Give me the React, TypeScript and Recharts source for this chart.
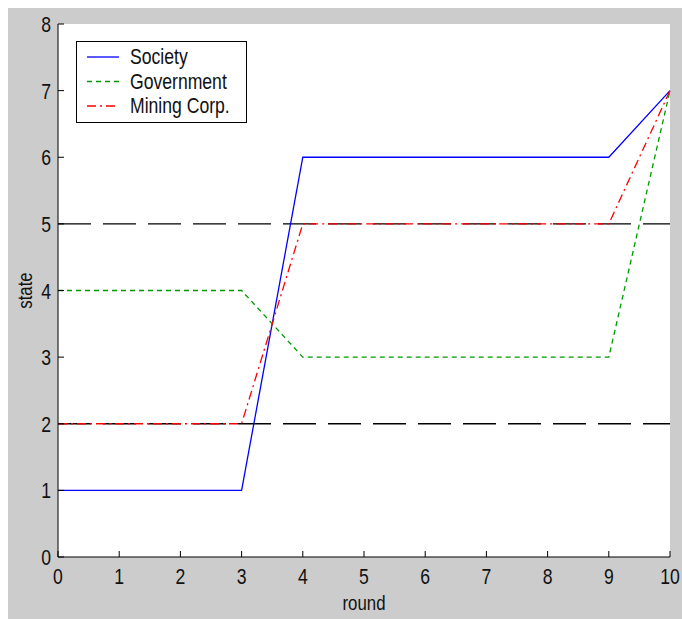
import React from 'react';
import { LineChart, Line, XAxis, YAxis, ReferenceLine, Legend } from 'recharts';

const rounds = [0, 1, 2, 3, 4, 5, 6, 7, 8, 9, 10];
const society = [1, 1, 1, 1, 6, 6, 6, 6, 6, 6, 7];
const government = [4, 4, 4, 4, 3, 3, 3, 3, 3, 3, 7];
const mining = [2, 2, 2, 2, 5, 5, 5, 5, 5, 5, 7];
const xTicks = [0, 1, 2, 3, 4, 5, 6, 7, 8, 9, 10];
const yTicks = [0, 1, 2, 3, 4, 5, 6, 7, 8];
const thresholds = [2, 5];

const data = rounds.map((r, i) => ({
  round: r,
  society: society[i],
  government: government[i],
  mining: mining[i],
}));

const FONT = "'Liberation Sans', Arial, sans-serif";
const NARROW = 0.8;
const TICK = 6;

const series = [
  { key: 'society', name: 'Society', color: '#0000ff', dash: undefined },
  { key: 'government', name: 'Government', color: '#009900', dash: '5 4' },
  { key: 'mining', name: 'Mining Corp.', color: '#ff0000', dash: '9 4 2 4' },
];

// squeezed text, the original figure uses a condensed font
const Narrow = ({ x, y, anchor = 'start', size = 22, rotate = 0, children }: any) => (
  <text
    transform={`translate(${x},${y}) rotate(${rotate}) scale(${NARROW},1)`}
    textAnchor={anchor}
    fontFamily={FONT}
    fontSize={size}
    fill="#111"
  >
    {children}
  </text>
);

const BottomTick = ({ x, y, payload }: any) => (
  <g>
    <line x1={x} x2={x} y1={y} y2={y - TICK} stroke="#000" />
    <Narrow x={x} y={y + 27} anchor="middle">
      {payload.value}
    </Narrow>
  </g>
);

const LeftTick = ({ x, y, payload }: any) => (
  <g>
    <line x1={x} x2={x + TICK} y1={y} y2={y} stroke="#000" />
    <Narrow x={x - 7} y={y + 8} anchor="end">
      {payload.value}
    </Narrow>
  </g>
);

const TopTick = ({ x, y }: any) => <line x1={x} x2={x} y1={y} y2={y + TICK} stroke="#000" />;
const RightTick = ({ x, y }: any) => <line x1={x} x2={x - TICK} y1={y} y2={y} stroke="#000" />;

const LegendBox = () => (
  <div
    style={{
      width: 171,
      height: 82,
      boxSizing: 'border-box',
      border: '1px solid #000',
      background: '#fff',
    }}
  >
    <svg width={169} height={80} style={{ display: 'block' }}>
      {series.map((s, i) => (
        <g key={s.key}>
          <line
            x1={10}
            x2={42}
            y1={15 + i * 24.5}
            y2={15 + i * 24.5}
            stroke={s.color}
            strokeWidth={1.3}
            strokeDasharray={s.dash}
          />
          <Narrow x={53} y={22 + i * 24.5} size={22}>
            {s.name}
          </Narrow>
        </g>
      ))}
    </svg>
  </div>
);

export default function App() {
  return (
    <div
      style={{
        position: 'fixed',
        left: 8,
        top: 8,
        width: 674,
        height: 611,
        background: '#cccccc',
      }}
    >
      <LineChart
        width={674}
        height={611}
        data={data}
        margin={{ top: 16, right: 12, left: 0, bottom: 0 }}
      >
        <rect x={50} y={16} width={612} height={533} fill="#fff" />
        <XAxis
          dataKey="round"
          type="number"
          domain={[0, 10]}
          ticks={xTicks}
          height={62}
          tickSize={0}
          tickMargin={0}
          tickLine={false}
          axisLine={{ stroke: '#000' }}
          tick={<BottomTick />}
          label={({ viewBox }: any) => (
            <Narrow x={viewBox.x + viewBox.width / 2} y={602} anchor="middle" size={21}>
              round
            </Narrow>
          )}
        />
        <XAxis
          xAxisId="top"
          orientation="top"
          type="number"
          domain={[0, 10]}
          ticks={xTicks}
          height={0}
          tickSize={0}
          tickMargin={0}
          tickLine={false}
          axisLine={{ stroke: '#000' }}
          tick={<TopTick />}
        />
        <YAxis
          type="number"
          domain={[0, 8]}
          ticks={yTicks}
          width={50}
          tickSize={0}
          tickMargin={0}
          tickLine={false}
          axisLine={{ stroke: '#000' }}
          tick={<LeftTick />}
          label={({ viewBox }: any) => (
            <Narrow x={24} y={viewBox.y + viewBox.height / 2} anchor="middle" size={21} rotate={-90}>
              state
            </Narrow>
          )}
        />
        <YAxis
          yAxisId="right"
          orientation="right"
          type="number"
          domain={[0, 8]}
          ticks={yTicks}
          width={0}
          tickSize={0}
          tickMargin={0}
          tickLine={false}
          axisLine={{ stroke: '#000' }}
          tick={<RightTick />}
        />
        {thresholds.map((t) => (
          <ReferenceLine key={t} y={t} stroke="#000" strokeWidth={1.3} strokeDasharray="33 12" />
        ))}
        {series.map((s) => (
          <Line
            key={s.key}
            dataKey={s.key}
            name={s.name}
            stroke={s.color}
            strokeWidth={1.3}
            strokeDasharray={s.dash}
            dot={false}
            activeDot={false}
            isAnimationActive={false}
          />
        ))}
        <Legend
          layout="vertical"
          align="center"
          verticalAlign="middle"
          content={<LegendBox />}
          wrapperStyle={{ left: 68, top: 33, width: 171, height: 82 }}
        />
      </LineChart>
    </div>
  );
}
